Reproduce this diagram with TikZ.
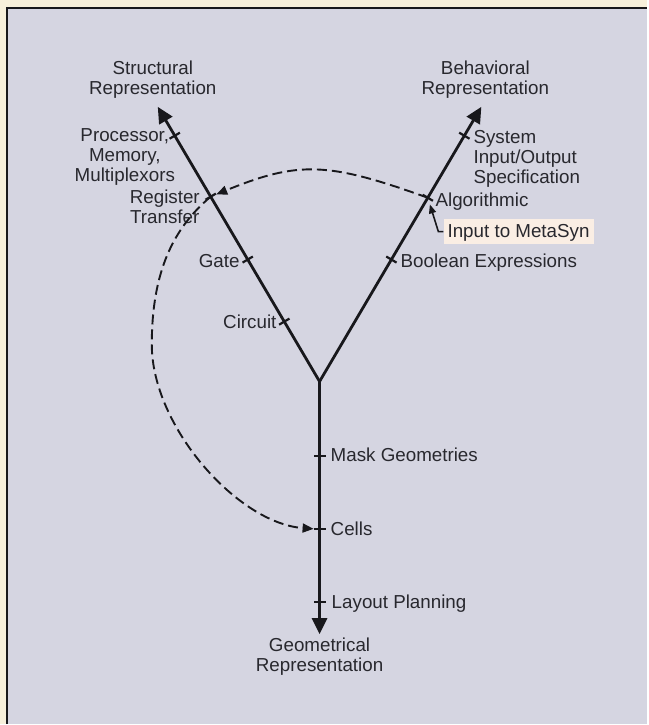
\documentclass[tikz,border=0pt]{standalone}
\usepackage{fontspec}
\setmainfont{Liberation Sans}
\usetikzlibrary{calc,arrows.meta}
\definecolor{paper}{RGB}{247,240,219}
\definecolor{panel}{RGB}{213,213,225}
\definecolor{ink}{RGB}{24,24,28}
\definecolor{textink}{RGB}{40,40,46}
\definecolor{tag}{RGB}{250,238,228}

\begin{document}
\begin{tikzpicture}[x=1pt,y=-1pt,
  arm/.style={line width=2.8pt, draw=ink, -{Triangle[length=16pt,width=15pt]}},
  tickmark/.style={line width=2.2pt, draw=ink},
  flow/.style={line width=1.9pt, draw=ink, dash pattern=on 10pt off 5pt,
    -{Triangle[length=11pt,width=9pt]}, shorten >=6pt},
  callout/.style={line width=1.6pt, draw=ink, -{Triangle[length=9pt,width=7pt]}, shorten >=7pt},
  lbl/.style={inner sep=0pt, text=textink, text height=14pt, text depth=3pt},
  blk/.style={inner sep=0pt, text=textink},
  every node/.style={font=\fontsize{18.8}{20}\selectfont}
]
% paper and panel
\fill[paper] (0,0) rectangle (648,725);
\fill[panel] (7,8) rectangle (648,725);
\draw[line width=2pt, ink] (7,725) -- (7,8) -- (648,8);
\useasboundingbox (0,0) rectangle (648,725);

% the Y: junction and the three arrow tips
\coordinate (J) at (320,382);
\coordinate (S) at (158,107);
\coordinate (B) at (482,107);
\coordinate (G) at (320,635);

% abstraction levels along each axis
\coordinate (proc)  at ($(J)!0.895!(S)$);
\coordinate (reg)   at ($(J)!0.673!(S)$);
\coordinate (gate)  at ($(J)!0.444!(S)$);
\coordinate (circ)  at ($(J)!0.218!(S)$);
\coordinate (sys)   at ($(J)!0.895!(B)$);
\coordinate (alg)   at ($(J)!0.669!(B)$);
\coordinate (bool)  at ($(J)!0.444!(B)$);
\coordinate (mask)  at ($(J)!0.296!(G)$);
\coordinate (cells) at ($(J)!0.585!(G)$);
\coordinate (lay)   at ($(J)!0.874!(G)$);
\coordinate (westpt) at (152,345);

\draw[arm] (J) -- (S);
\draw[arm] (J) -- (B);
\draw[arm] (J) -- (G);

\foreach \p/\e in {proc/S,reg/S,gate/S,circ/S,sys/B,alg/B,bool/B,mask/G,cells/G,lay/G}
  \draw[tickmark] ($(\p)!6pt!90:(\e)$) -- ($(\p)!6pt!-90:(\e)$);

% axis titles
\node[blk, align=center] (structL) at (153,80) {Structural\\Representation};
\node[blk, align=center] (behavL)  at (486,80) {Behavioral\\Representation};
\node[blk, align=center] (geomL)   at (320,658) {Geometrical\\Representation};

% structural levels
\node[blk, align=center] (procL) at (125,157) {Processor,\\Memory,\\Multiplexors};
\node[blk, align=center] (regL)  at (165,207) {Register\\Transfer};
\node[lbl, anchor=east] (gateL) at (240,262) {Gate};
\node[lbl, anchor=east] (circL) at (277,323) {Circuit};

% behavioral levels
\node[blk, align=left, anchor=west] (sysL) at (474,159) {System\\Input/Output\\Specification};
\node[lbl, anchor=west] (algL)  at (436,201) {Algorithmic};
\node[lbl, anchor=west] (boolL) at (401,262) {Boolean Expressions};

% geometrical levels
\node[lbl, anchor=west] (maskL)  at (331,457) {Mask Geometries};
\node[lbl, anchor=west] (cellsL) at (331,531) {Cells};
\node[lbl, anchor=west] (layL)   at (332,604) {Layout Planning};

% MetaSyn input tag
\node[lbl, fill=tag, inner xsep=4pt, inner ysep=4pt, anchor=west] (meta) at (444,232) {Input to MetaSyn};
\coordinate (bend) at (439,232);
\draw[callout] (meta.west) -- (bend) -- (alg);

% synthesis path
\draw[flow] (alg) .. controls ($(alg)+(-100,-36)$) and ($(reg)+(88,-36)$) .. (reg);
\draw[flow] (reg) .. controls ($(reg)+(-38,32)$) and ($(westpt)+(0,-72)$) .. (westpt)
            .. controls ($(westpt)+(0,82)$) and ($(cells)+(-82,-6)$) .. (cells);
\end{tikzpicture}
\end{document}
